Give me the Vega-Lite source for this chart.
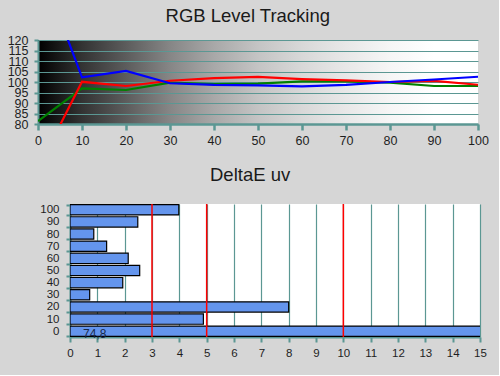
{
  "$schema": "https://vega.github.io/schema/vega-lite/v6.json",
  "background": "#d6d6d6",
  "padding": {"left": 7, "top": 6, "right": 10, "bottom": 16},
  "spacing": 18,
  "config": {
    "font": "Liberation Sans",
    "view": {"stroke": null},
    "axis": {
      "domainColor": "#5b9793",
      "domainWidth": 2,
      "tickColor": "#5b9793",
      "tickWidth": 2,
      "labelColor": "#1e1e1e",
      "labelFont": "Liberation Sans",
      "labelOverlap": false,
      "labelFlush": false,
      "gridColor": "#5b9793",
      "gridOpacity": 1,
      "gridWidth": 1.2
    },
    "title": {
      "font": "Liberation Sans",
      "fontSize": 18.5,
      "fontWeight": "normal",
      "color": "#1a1a1a",
      "anchor": "middle",
      "frame": "bounds",
      "baseline": "alphabetic"
    }
  },
  "vconcat": [
    {
      "width": 440,
      "height": 84,
      "title": {"text": "RGB Level Tracking", "offset": 9},
      "view": {
        "stroke": null,
        "fill": {
          "gradient": "linear",
          "x1": 0, "y1": 0, "x2": 1, "y2": 0,
          "stops": [
            {"offset": 0, "color": "#000000"},
            {"offset": 0.1, "color": "#333333"},
            {"offset": 0.2, "color": "#5c5c5c"},
            {"offset": 0.3, "color": "#868686"},
            {"offset": 0.4, "color": "#a8a8a8"},
            {"offset": 0.5, "color": "#c4c4c4"},
            {"offset": 0.6, "color": "#d8d8d8"},
            {"offset": 0.7, "color": "#e8e8e8"},
            {"offset": 0.8, "color": "#f6f6f6"},
            {"offset": 0.9, "color": "#ffffff"},
            {"offset": 1, "color": "#ffffff"}
          ]
        }
      },
      "data": {
        "values": [
          {"level": 0, "channel": "Green", "value": 81.4},
          {"level": 10, "channel": "Green", "value": 97.0},
          {"level": 20, "channel": "Green", "value": 96.2},
          {"level": 30, "channel": "Green", "value": 99.7},
          {"level": 40, "channel": "Green", "value": 99.0},
          {"level": 50, "channel": "Green", "value": 99.2},
          {"level": 60, "channel": "Green", "value": 100.3},
          {"level": 70, "channel": "Green", "value": 100.3},
          {"level": 80, "channel": "Green", "value": 99.7},
          {"level": 90, "channel": "Green", "value": 98.1},
          {"level": 100, "channel": "Green", "value": 98.1},
          {"level": 0, "channel": "Red", "value": 58.8},
          {"level": 10, "channel": "Red", "value": 100.1},
          {"level": 20, "channel": "Red", "value": 98.1},
          {"level": 30, "channel": "Red", "value": 100.6},
          {"level": 40, "channel": "Red", "value": 101.8},
          {"level": 50, "channel": "Red", "value": 102.4},
          {"level": 60, "channel": "Red", "value": 101.4},
          {"level": 70, "channel": "Red", "value": 100.8},
          {"level": 80, "channel": "Red", "value": 100.0},
          {"level": 90, "channel": "Red", "value": 100.5},
          {"level": 100, "channel": "Red", "value": 98.7},
          {"level": 0, "channel": "Blue", "value": 158},
          {"level": 10, "channel": "Blue", "value": 102.2},
          {"level": 20, "channel": "Blue", "value": 105.3},
          {"level": 30, "channel": "Blue", "value": 99.4},
          {"level": 40, "channel": "Blue", "value": 98.6},
          {"level": 50, "channel": "Blue", "value": 98.4},
          {"level": 60, "channel": "Blue", "value": 97.9},
          {"level": 70, "channel": "Blue", "value": 98.6},
          {"level": 80, "channel": "Blue", "value": 100.0},
          {"level": 90, "channel": "Blue", "value": 101.2},
          {"level": 100, "channel": "Blue", "value": 102.5}
        ]
      },
      "mark": {"type": "line", "clip": true, "strokeWidth": 2.2},
      "encoding": {
        "x": {
          "field": "level", "type": "quantitative",
          "scale": {"domain": [0, 100], "nice": false},
          "axis": {
            "title": null, "grid": false,
            "values": [0, 10, 20, 30, 40, 50, 60, 70, 80, 90, 100],
            "tickSize": 6, "tickWidth": 2.5, "domainWidth": 2.5,
            "labelFontSize": 12.5, "labelPadding": 4
          }
        },
        "y": {
          "field": "value", "type": "quantitative",
          "scale": {"domain": [80, 120], "nice": false, "zero": false},
          "axis": {
            "title": null, "grid": true,
            "values": [80, 85, 90, 95, 100, 105, 110, 115, 120],
            "tickSize": 4, "labelFontSize": 12.5, "labelPadding": 6
          }
        },
        "color": {
          "field": "channel", "type": "nominal",
          "scale": {"domain": ["Green", "Red", "Blue"], "range": ["#008000", "#ff0000", "#0000ff"]},
          "legend": null
        }
      }
    },
    {
      "spacing": 0,
      "hconcat": [
        {
          "width": 1,
          "height": 1,
          "data": {"values": [{}]},
          "mark": {"type": "point", "opacity": 0, "size": 1}
        },
        {
          "width": 410,
          "height": 133,
          "title": {"text": "DeltaE uv", "offset": 14, "dx": -13},
          "view": {"fill": "#ffffff", "stroke": null},
          "layer": [
            {
              "data": {
                "values": [
                  {"level": 0, "de": 74.8, "label": "74,8"},
                  {"level": 10, "de": 4.88},
                  {"level": 20, "de": 8.0},
                  {"level": 30, "de": 0.72},
                  {"level": 40, "de": 1.93},
                  {"level": 50, "de": 2.55},
                  {"level": 60, "de": 2.13},
                  {"level": 70, "de": 1.34},
                  {"level": 80, "de": 0.87},
                  {"level": 90, "de": 2.48},
                  {"level": 100, "de": 3.98}
                ]
              },
              "layer": [
                {
                  "mark": {"type": "bar", "clip": true, "fill": "#6495ed", "stroke": "#000000", "strokeWidth": 1.2},
                  "encoding": {
                    "x": {
                      "field": "de", "type": "quantitative",
                      "scale": {"domain": [0, 15], "nice": false},
                      "axis": {
                        "title": null, "grid": true,
                        "values": [0, 1, 2, 3, 4, 5, 6, 7, 8, 9, 10, 11, 12, 13, 14, 15],
                        "tickSize": 5, "labelFontSize": 11.5, "labelPadding": 5
                      }
                    },
                    "y": {
                      "field": "level", "type": "ordinal",
                      "sort": "descending",
                      "scale": {"paddingInner": 0.15, "paddingOuter": 0.05},
                      "axis": {
                        "title": null,
                        "tickBand": "extent", "tickSize": 4, "labelFontSize": 11.5, "labelPadding": 7
                      }
                    }
                  }
                },
                {
                  "transform": [{"filter": {"field": "level", "equal": 0}}],
                  "mark": {"type": "text", "align": "left", "baseline": "middle", "dx": 13, "dy": 3, "fontSize": 12, "color": "#1a2a4a"},
                  "encoding": {
                    "x": {
                      "datum": 0, "type": "quantitative",
                      "axis": {
                        "title": null, "grid": true,
                        "values": [0, 1, 2, 3, 4, 5, 6, 7, 8, 9, 10, 11, 12, 13, 14, 15],
                        "tickSize": 5, "labelFontSize": 11.5, "labelPadding": 5
                      }
                    },
                    "y": {"field": "level", "type": "ordinal", "sort": "descending"},
                    "text": {"field": "label"}
                  }
                }
              ]
            },
            {
              "data": {"values": [{"limit": 3}, {"limit": 5}, {"limit": 10}]},
              "mark": {"type": "rule", "color": "#ff0000", "strokeWidth": 1.5},
              "encoding": {
                "x": {
                  "field": "limit", "type": "quantitative",
                  "axis": {
                    "title": null, "grid": true,
                    "values": [0, 1, 2, 3, 4, 5, 6, 7, 8, 9, 10, 11, 12, 13, 14, 15],
                    "tickSize": 5, "labelFontSize": 11.5, "labelPadding": 5
                  }
                }
              }
            }
          ]
        }
      ]
    }
  ]
}
